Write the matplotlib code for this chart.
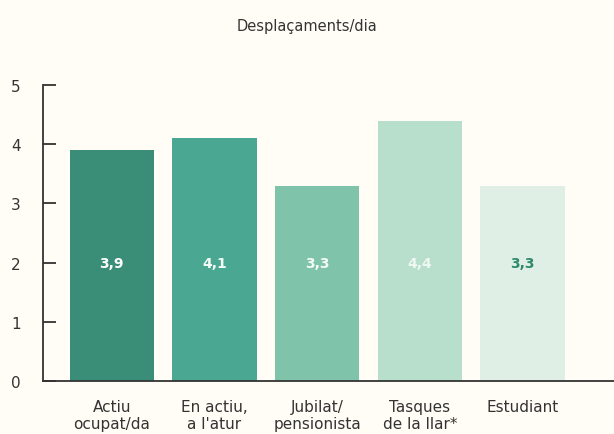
import matplotlib.pyplot as plt

categories = ["Actiu\nocupat/da", "En actiu,\na l'atur", "Jubilat/\npensionista",
              "Tasques\nde la llar*", "Estudiant"]
values = [3.9, 4.1, 3.3, 4.4, 3.3]
value_labels = ["3,9", "4,1", "3,3", "4,4", "3,3"]
colors = ["#3a8e78", "#4aa791", "#80c3ab", "#b7dfcc", "#dfefe6"]
label_colors = ["white", "#f4fbf7", "#f4fbf7", "#eef7f2", "#2e8a6a"]

bg = "#fffdf5"
plt.rcParams["font.family"] = ["DejaVu Sans"]

fig = plt.figure(figsize=(6.14, 4.35), dpi=100, facecolor=bg)
ax = fig.add_axes([0.070, 0.122, 0.93, 0.680], facecolor=bg)

x = range(len(values))
ax.bar(x, values, width=0.82, color=colors)

for i, (v, lab) in enumerate(zip(values, value_labels)):
    ax.text(i, 2, lab, ha="center", va="center", fontsize=10,
            fontweight="bold", color=label_colors[i])

ax.set_xlim(-0.67, 4.89)
ax.set_ylim(0, 5)
ax.set_yticks(range(6))
ax.set_xticks(list(x))
ax.set_xticklabels(categories, fontsize=11, color="#333333", linespacing=1.15)

ax.tick_params(axis="y", direction="in", length=9, width=1.3, colors="#333333",
               labelsize=11, pad=16)
ax.tick_params(axis="x", length=0, pad=13)

for s in ["top", "right"]:
    ax.spines[s].set_visible(False)
for s in ["left", "bottom"]:
    ax.spines[s].set_linewidth(1.3)
    ax.spines[s].set_color("#333333")

fig.text(0.5, 0.938, "Desplaçaments/dia", ha="center", va="center",
         fontsize=10.5, color="#333333")

fig.savefig("out.png", dpi=100, facecolor=bg)
